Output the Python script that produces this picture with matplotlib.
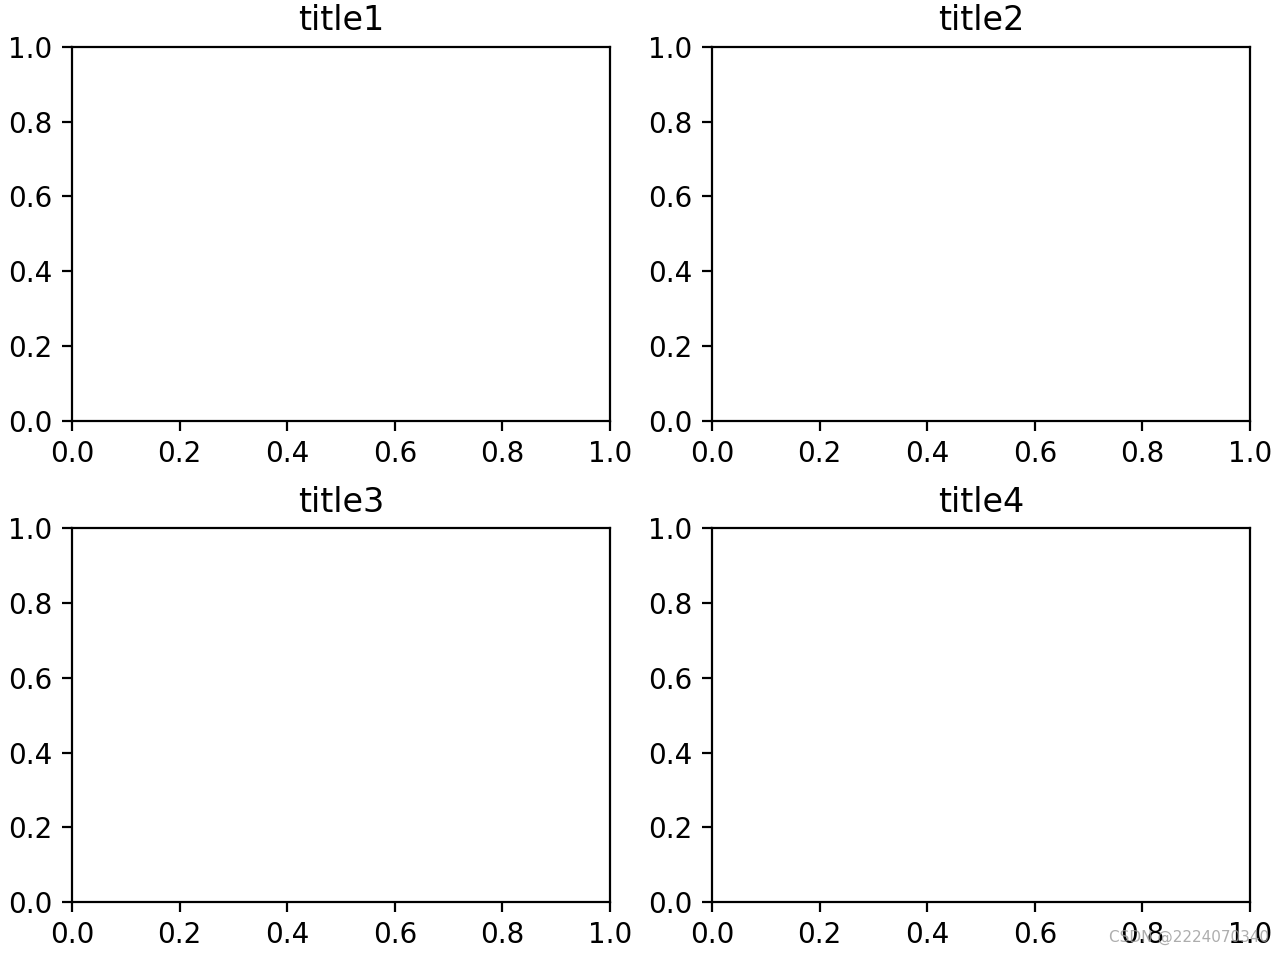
import matplotlib
matplotlib.use('Agg')
import matplotlib.pyplot as plt

titles = ['title1', 'title2', 'title3', 'title4']

fig, axes = plt.subplots(2, 2, figsize=(6.41, 4.78), dpi=200)
fig.subplots_adjust(left=0.0562, right=0.975, bottom=0.0565, top=0.9508,
                    wspace=0.19, hspace=0.289)

for ax, t in zip(axes.flat, titles):
    ax.set_title(t)

# watermark
fig.text(0.99, 0.012, 'CSDN @2224070340', ha='right', va='bottom',
         fontsize=5.5, color='#999999', alpha=0.8)

fig.savefig('out.png', dpi=200)
